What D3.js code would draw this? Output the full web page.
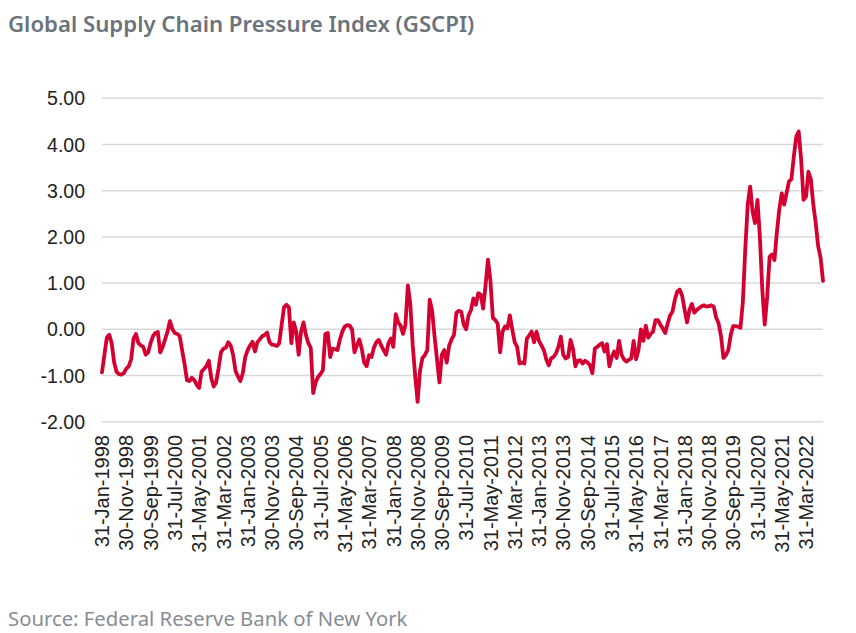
<!DOCTYPE html>
<html>
<head>
<meta charset="utf-8">
<script src="https://cdn.jsdelivr.net/npm/d3@7"></script>
<style>
  body { margin: 0; background: #fff; }
</style>
</head>
<body>
<script>
// monthly GSCPI, Jan-1998 .. Oct-2022 (one row per year)
const gscpi = [
  -0.93, -0.55, -0.18, -0.12, -0.30, -0.72, -0.92, -0.97, -0.98, -0.95, -0.85, -0.80,
  -0.65, -0.20, -0.10, -0.30, -0.35, -0.38, -0.55, -0.50, -0.30, -0.15, -0.08, -0.06,
  -0.50, -0.38, -0.22, -0.05, 0.18, 0.00, -0.08, -0.10, -0.15, -0.45, -0.75, -1.10,
  -1.12, -1.05, -1.10, -1.20, -1.27, -0.92, -0.86, -0.80, -0.68, -1.05, -1.24, -1.15,
  -0.85, -0.50, -0.42, -0.40, -0.28, -0.35, -0.55, -0.90, -1.02, -1.12, -0.95, -0.60,
  -0.45, -0.35, -0.27, -0.48, -0.28, -0.22, -0.15, -0.12, -0.07, -0.28, -0.33, -0.34,
  -0.36, -0.30, 0.10, 0.48, 0.53, 0.47, -0.30, 0.15, -0.05, -0.55, -0.05, 0.15,
  -0.12, -0.30, -0.40, -1.38, -1.15, -1.03, -0.97, -0.88, -0.10, -0.08, -0.60, -0.42,
  -0.43, -0.45, -0.22, -0.05, 0.06, 0.09, 0.08, 0.00, -0.50, -0.35, -0.22, -0.42,
  -0.72, -0.80, -0.56, -0.60, -0.40, -0.28, -0.23, -0.35, -0.45, -0.55, -0.30, -0.20,
  -0.38, 0.33, 0.15, 0.08, -0.10, 0.10, 0.95, 0.55, -0.35, -1.00, -1.57, -0.90,
  -0.62, -0.56, -0.45, 0.64, 0.40, -0.16, -0.65, -1.15, -0.55, -0.45, -0.72, -0.35,
  -0.22, -0.12, 0.36, 0.40, 0.38, 0.10, 0.00, 0.30, 0.42, 0.67, 0.53, 0.78,
  0.75, 0.45, 0.95, 1.51, 1.05, 0.25, 0.20, 0.12, -0.50, -0.05, 0.06, 0.02,
  0.30, 0.00, -0.28, -0.38, -0.74, -0.72, -0.74, -0.20, -0.13, -0.05, -0.28, -0.05,
  -0.25, -0.35, -0.45, -0.65, -0.78, -0.63, -0.60, -0.52, -0.38, -0.16, -0.55, -0.63,
  -0.60, -0.23, -0.42, -0.80, -0.68, -0.67, -0.74, -0.68, -0.72, -0.78, -0.95, -0.42,
  -0.38, -0.33, -0.30, -0.48, -0.32, -0.80, -0.60, -0.48, -0.62, -0.25, -0.55, -0.65,
  -0.70, -0.66, -0.63, -0.25, -0.65, -0.45, 0.00, -0.25, 0.08, -0.18, -0.10, -0.05,
  0.20, 0.20, 0.10, 0.02, -0.08, 0.12, 0.30, 0.38, 0.65, 0.82, 0.86, 0.72,
  0.42, 0.15, 0.42, 0.55, 0.36, 0.42, 0.46, 0.50, 0.52, 0.49, 0.50, 0.52,
  0.49, 0.25, 0.13, -0.15, -0.62, -0.56, -0.45, -0.12, 0.07, 0.07, 0.06, 0.03,
  0.60, 1.75, 2.70, 3.09, 2.55, 2.30, 2.80, 2.00, 0.85, 0.10, 0.70, 1.57,
  1.62, 1.50, 2.10, 2.60, 2.94, 2.70, 2.95, 3.20, 3.25, 3.75, 4.17, 4.28,
  3.67, 2.80, 2.87, 3.41, 3.25, 2.70, 2.30, 1.80, 1.55, 1.05
];

// x tick labels, one every 10 months starting at index 0
const xTickLabels = [
  "31-Jan-1998", "30-Nov-1998", "30-Sep-1999", "31-Jul-2000", "31-May-2001",
  "31-Mar-2002", "31-Jan-2003", "30-Nov-2003", "30-Sep-2004", "31-Jul-2005",
  "31-May-2006", "31-Mar-2007", "31-Jan-2008", "30-Nov-2008", "30-Sep-2009",
  "31-Jul-2010", "31-May-2011", "31-Mar-2012", "31-Jan-2013", "30-Nov-2013",
  "30-Sep-2014", "31-Jul-2015", "31-May-2016", "31-Mar-2017", "31-Jan-2018",
  "30-Nov-2018", "30-Sep-2019", "31-Jul-2020", "31-May-2021", "31-Mar-2022"
];
const xTickStep = 10;
const yTicks = [-2, -1, 0, 1, 2, 3, 4, 5];

const title = "Global Supply Chain Pressure Index (GSCPI)";
const source = "Source: Federal Reserve Bank of New York";

// layout
const width = 856, height = 633;
const plotLeft = 102, plotRight = 823, plotTop = 98.3, plotBottom = 421.7;

const svg = d3.select("body").append("svg")
  .attr("width", width)
  .attr("height", height);

const x = d3.scaleLinear()
  .domain([0, gscpi.length - 1])
  .range([plotLeft, plotRight]);

const y = d3.scaleLinear()
  .domain([-2, 5])
  .range([plotBottom, plotTop]);

// plain hyphen for negatives, like the source chart
const fmt = d3.formatLocale({decimal: ".", thousands: ",", grouping: [3], currency: ["", ""], minus: "-"}).format(".2f");

// title
svg.append("text")
  .attr("x", 8)
  .attr("y", 32)
  .attr("font-family", "'Noto Sans', sans-serif")
  .attr("font-weight", 600)
  .attr("font-size", "22.2px")
  .attr("fill", "#6b737c")
  .text(title);

// grid
svg.append("g")
  .selectAll("line")
  .data(yTicks)
  .join("line")
    .attr("x1", plotLeft)
    .attr("x2", plotRight)
    .attr("y1", d => y(d))
    .attr("y2", d => y(d))
    .attr("stroke", "#d9d9d9")
    .attr("stroke-width", 1.5);

// y labels
svg.append("g")
  .selectAll("text")
  .data(yTicks)
  .join("text")
    .attr("x", 85)
    .attr("y", d => y(d))
    .attr("dy", "0.36em")
    .attr("text-anchor", "end")
    .attr("font-family", "'Liberation Sans', Arial, sans-serif")
    .attr("font-size", "19.5px")
    .attr("fill", "#222")
    .text(d => fmt(d));

// x labels
svg.append("g")
  .selectAll("text")
  .data(xTickLabels)
  .join("text")
    .attr("transform", (d, i) => `translate(${x(i * xTickStep)},435) rotate(-90)`)
    .attr("dy", "0.36em")
    .attr("text-anchor", "end")
    .attr("font-family", "'Liberation Sans', Arial, sans-serif")
    .attr("font-size", "20px")
    .attr("fill", "#222")
    .text(d => d);

// line
const line = d3.line()
  .x((d, i) => x(i))
  .y(d => y(d));

svg.append("path")
  .datum(gscpi)
  .attr("d", line)
  .attr("fill", "none")
  .attr("stroke", "#d50032")
  .attr("stroke-width", 3.8)
  .attr("stroke-linejoin", "round")
  .attr("stroke-linecap", "round");

// source
svg.append("text")
  .attr("x", 8)
  .attr("y", 626)
  .attr("font-family", "'Noto Sans', sans-serif")
  .attr("font-size", "20.3px")
  .attr("fill", "#878d95")
  .text(source);
</script>
</body>
</html>
